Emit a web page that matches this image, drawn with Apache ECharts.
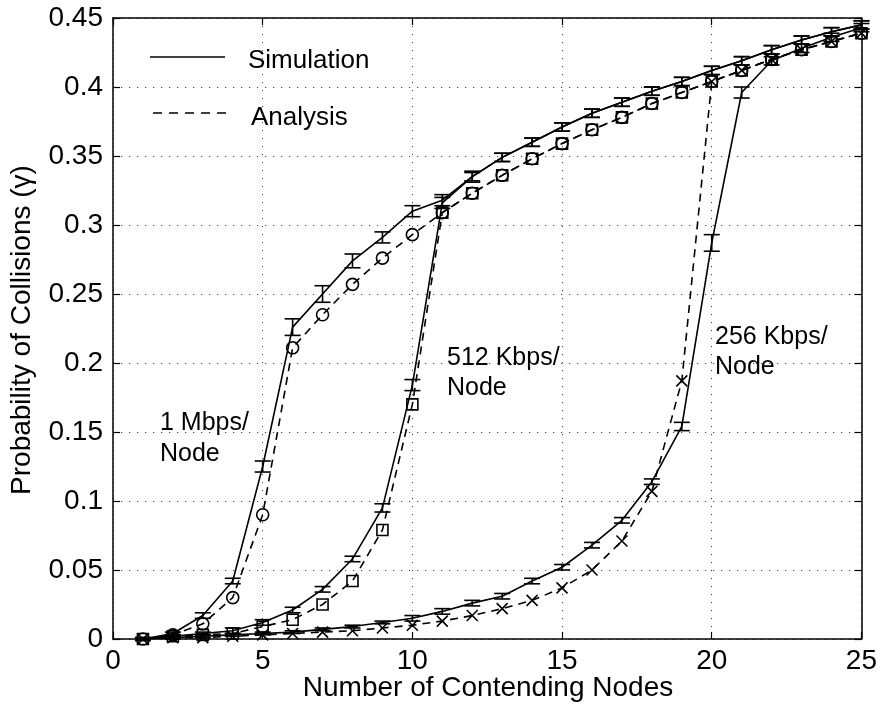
<!DOCTYPE html>
<html>
<head>
<meta charset="utf-8">
<script src="https://cdn.jsdelivr.net/npm/echarts@6/dist/echarts.min.js"></script>
<style>
  html, body { margin: 0; padding: 0; background: #fff; }
  #chart { width: 880px; height: 711px; }
</style>
</head>
<body>
<div id="chart"></div>
<script>
// Number of contending nodes
const nodes = [1, 2, 3, 4, 5, 6, 7, 8, 9, 10, 11, 12, 13, 14, 15, 16, 17, 18, 19, 20, 21, 22, 23, 24, 25];

// 1 Mbps per node
const sim1M = [0, 0.004, 0.017, 0.042, 0.125, 0.226, 0.250, 0.274, 0.291, 0.310, 0.318, 0.335, 0.349, 0.360, 0.371, 0.381, 0.389, 0.397, 0.404, 0.412, 0.419, 0.427, 0.434, 0.440, 0.445];
const err1M = [0.001, 0.001, 0.002, 0.002, 0.004, 0.006, 0.006, 0.005, 0.004, 0.004, 0.004, 0.004, 0.003, 0.003, 0.003, 0.003, 0.003, 0.003, 0.003, 0.003, 0.003, 0.003, 0.003, 0.003, 0.003];
const ana1M = [0, 0.003, 0.011, 0.030, 0.090, 0.211, 0.235, 0.257, 0.276, 0.293, 0.309, 0.323, 0.336, 0.348, 0.359, 0.369, 0.378, 0.388, 0.396, 0.404, 0.412, 0.420, 0.427, 0.433, 0.439];

// 512 Kbps per node
const sim512 = [0, 0.002, 0.004, 0.006, 0.012, 0.021, 0.036, 0.058, 0.095, 0.184, 0.316, 0.335, 0.349, 0.360, 0.371, 0.381, 0.389, 0.397, 0.404, 0.412, 0.419, 0.427, 0.434, 0.440, 0.445];
const err512 = [0.001, 0.001, 0.001, 0.002, 0.002, 0.002, 0.002, 0.002, 0.003, 0.004, 0.004, 0.003, 0.003, 0.003, 0.003, 0.003, 0.003, 0.003, 0.003, 0.003, 0.003, 0.003, 0.003, 0.003, 0.003];
const ana512 = [0, 0.002, 0.003, 0.004, 0.009, 0.014, 0.025, 0.042, 0.079, 0.170, 0.309, 0.323, 0.336, 0.348, 0.359, 0.369, 0.378, 0.388, 0.396, 0.404, 0.412, 0.420, 0.427, 0.433, 0.439];

// 256 Kbps per node
const sim256 = [0, 0.001, 0.002, 0.003, 0.004, 0.005, 0.007, 0.009, 0.012, 0.015, 0.020, 0.026, 0.031, 0.042, 0.052, 0.068, 0.086, 0.114, 0.154, 0.287, 0.396, 0.419, 0.428, 0.436, 0.443];
const err256 = [0.001, 0.001, 0.001, 0.001, 0.001, 0.001, 0.001, 0.001, 0.001, 0.002, 0.002, 0.002, 0.002, 0.002, 0.002, 0.002, 0.002, 0.002, 0.003, 0.006, 0.004, 0.003, 0.003, 0.003, 0.003];
const ana256 = [0, 0.001, 0.001, 0.002, 0.003, 0.004, 0.005, 0.006, 0.008, 0.010, 0.013, 0.017, 0.022, 0.028, 0.037, 0.050, 0.071, 0.107, 0.187, 0.404, 0.412, 0.420, 0.427, 0.433, 0.439];

// Axis ticks
const xTicks = [0, 5, 10, 15, 20, 25];
const yTickLabels = ['0', '0.05', '0.1', '0.15', '0.2', '0.25', '0.3', '0.35', '0.4', '0.45'];

const FONT = '"Liberation Sans", Arial, Helvetica, sans-serif';
const INK = '#000';

const pairs = vals => nodes.map((n, i) => [n, vals[i]]);

function simLine(vals) {
  return {
    type: 'line',
    data: pairs(vals),
    symbol: 'none',
    lineStyle: { color: INK, width: 1.6, type: 'solid' },
    silent: true,
    z: 2
  };
}

function anaLine(vals, symbol, size) {
  return {
    type: 'line',
    data: pairs(vals),
    symbol: symbol,
    symbolSize: size,
    showSymbol: true,
    showAllSymbol: true,
    lineStyle: { color: INK, width: 1.6, type: [8, 6] },
    itemStyle: { color: 'rgba(0,0,0,0)', borderColor: INK, borderWidth: 1.6 },
    silent: true,
    z: 4
  };
}

// I-shaped error bars around each simulated point
function errorBars(vals, errs) {
  return {
    type: 'custom',
    data: nodes.map((n, i) => [n, vals[i] - errs[i], vals[i] + errs[i]]),
    encode: { x: 0, y: [1, 2] },
    silent: true,
    z: 3,
    renderItem: (params, api) => {
      const x = api.value(0);
      const lo = api.coord([x, api.value(1)]);
      const hi = api.coord([x, api.value(2)]);
      const hw = 8;
      const style = { stroke: INK, lineWidth: 1.6, fill: null };
      return {
        type: 'group',
        children: [
          { type: 'line', shape: { x1: lo[0], y1: lo[1], x2: hi[0], y2: hi[1] }, style },
          { type: 'line', shape: { x1: lo[0] - hw, y1: lo[1], x2: lo[0] + hw, y2: lo[1] }, style },
          { type: 'line', shape: { x1: hi[0] - hw, y1: hi[1], x2: hi[0] + hw, y2: hi[1] }, style }
        ]
      };
    }
  };
}

const crossSymbol = 'path://M0,0L10,10M10,0L0,10';

const gridDots = { show: true, lineStyle: { color: '#444', width: 1, type: [1.2, 6.8] } };

const chart = echarts.init(document.getElementById('chart'), null, { renderer: 'canvas' });

chart.setOption({
  animation: false,
  backgroundColor: '#fff',
  grid: { left: 113, right: 17, top: 18, bottom: 72, containLabel: false },
  xAxis: [
    {
      type: 'value', min: 0, max: 25, interval: 5,
      axisLine: { show: true, onZero: false, lineStyle: { color: INK, width: 1.5 } },
      axisTick: { show: true, inside: true, length: 7, lineStyle: { color: INK, width: 1.2 } },
      axisLabel: {
        color: INK, fontFamily: FONT, fontSize: 28, margin: 8,
        formatter: v => xTicks.includes(v) ? String(v) : ''
      },
      splitLine: gridDots
    },
    {
      type: 'value', position: 'top', min: 0, max: 25, interval: 5,
      axisLine: { show: true, onZero: false, lineStyle: { color: INK, width: 1.5 } },
      axisTick: { show: true, inside: true, length: 7, lineStyle: { color: INK, width: 1.2 } },
      axisLabel: { show: false },
      splitLine: { show: false }
    }
  ],
  yAxis: [
    {
      type: 'value', min: 0, max: 0.45, interval: 0.05,
      axisLine: { show: true, onZero: false, lineStyle: { color: INK, width: 1.5 } },
      axisTick: { show: true, inside: true, length: 7, lineStyle: { color: INK, width: 1.2 } },
      axisLabel: {
        color: INK, fontFamily: FONT, fontSize: 28, margin: 10,
        formatter: v => yTickLabels[Math.round(v / 0.05)]
      },
      splitLine: gridDots
    },
    {
      type: 'value', position: 'right', min: 0, max: 0.45, interval: 0.05,
      axisLine: { show: true, onZero: false, lineStyle: { color: INK, width: 1.5 } },
      axisTick: { show: true, inside: true, length: 7, lineStyle: { color: INK, width: 1.2 } },
      axisLabel: { show: false },
      splitLine: { show: false }
    }
  ],
  series: [
    simLine(sim1M), errorBars(sim1M, err1M), anaLine(ana1M, 'circle', 12),
    simLine(sim512), errorBars(sim512, err512), anaLine(ana512, 'rect', 11),
    simLine(sim256), errorBars(sim256, err256), anaLine(ana256, crossSymbol, 11)
  ],
  graphic: [
    // legend
    { type: 'line', shape: { x1: 150, y1: 57, x2: 225, y2: 57 }, style: { stroke: INK, lineWidth: 1.6 } },
    { type: 'text', x: 248, y: 61, style: { text: 'Simulation', font: '26px ' + FONT, fill: INK, textVerticalAlign: 'middle' } },
    { type: 'line', shape: { x1: 153, y1: 113, x2: 228, y2: 113 }, style: { stroke: INK, lineWidth: 1.6, lineDash: [9, 7] } },
    { type: 'text', x: 251, y: 118, style: { text: 'Analysis', font: '26px ' + FONT, fill: INK, textVerticalAlign: 'middle' } },
    // curve annotations
    { type: 'text', x: 160, y: 423, style: { text: '1 Mbps/', font: '25px ' + FONT, fill: INK, textVerticalAlign: 'middle' } },
    { type: 'text', x: 160, y: 454, style: { text: 'Node', font: '25px ' + FONT, fill: INK, textVerticalAlign: 'middle' } },
    { type: 'text', x: 447, y: 358, style: { text: '512 Kbps/', font: '25px ' + FONT, fill: INK, textVerticalAlign: 'middle' } },
    { type: 'text', x: 447, y: 388, style: { text: 'Node', font: '25px ' + FONT, fill: INK, textVerticalAlign: 'middle' } },
    { type: 'text', x: 715, y: 337, style: { text: '256 Kbps/', font: '25px ' + FONT, fill: INK, textVerticalAlign: 'middle' } },
    { type: 'text', x: 715, y: 367, style: { text: 'Node', font: '25px ' + FONT, fill: INK, textVerticalAlign: 'middle' } },
    // axis titles
    { type: 'text', x: 488, y: 688, style: { text: 'Number of Contending Nodes', font: '28px ' + FONT, fill: INK, textAlign: 'center', textVerticalAlign: 'middle' } },
    { type: 'text', x: 22, y: 330, rotation: Math.PI / 2, style: { text: 'Probability of Collisions (\u03b3)', font: '28px ' + FONT, fill: INK, textAlign: 'center', textVerticalAlign: 'middle' } }
  ]
});
</script>
</body>
</html>
